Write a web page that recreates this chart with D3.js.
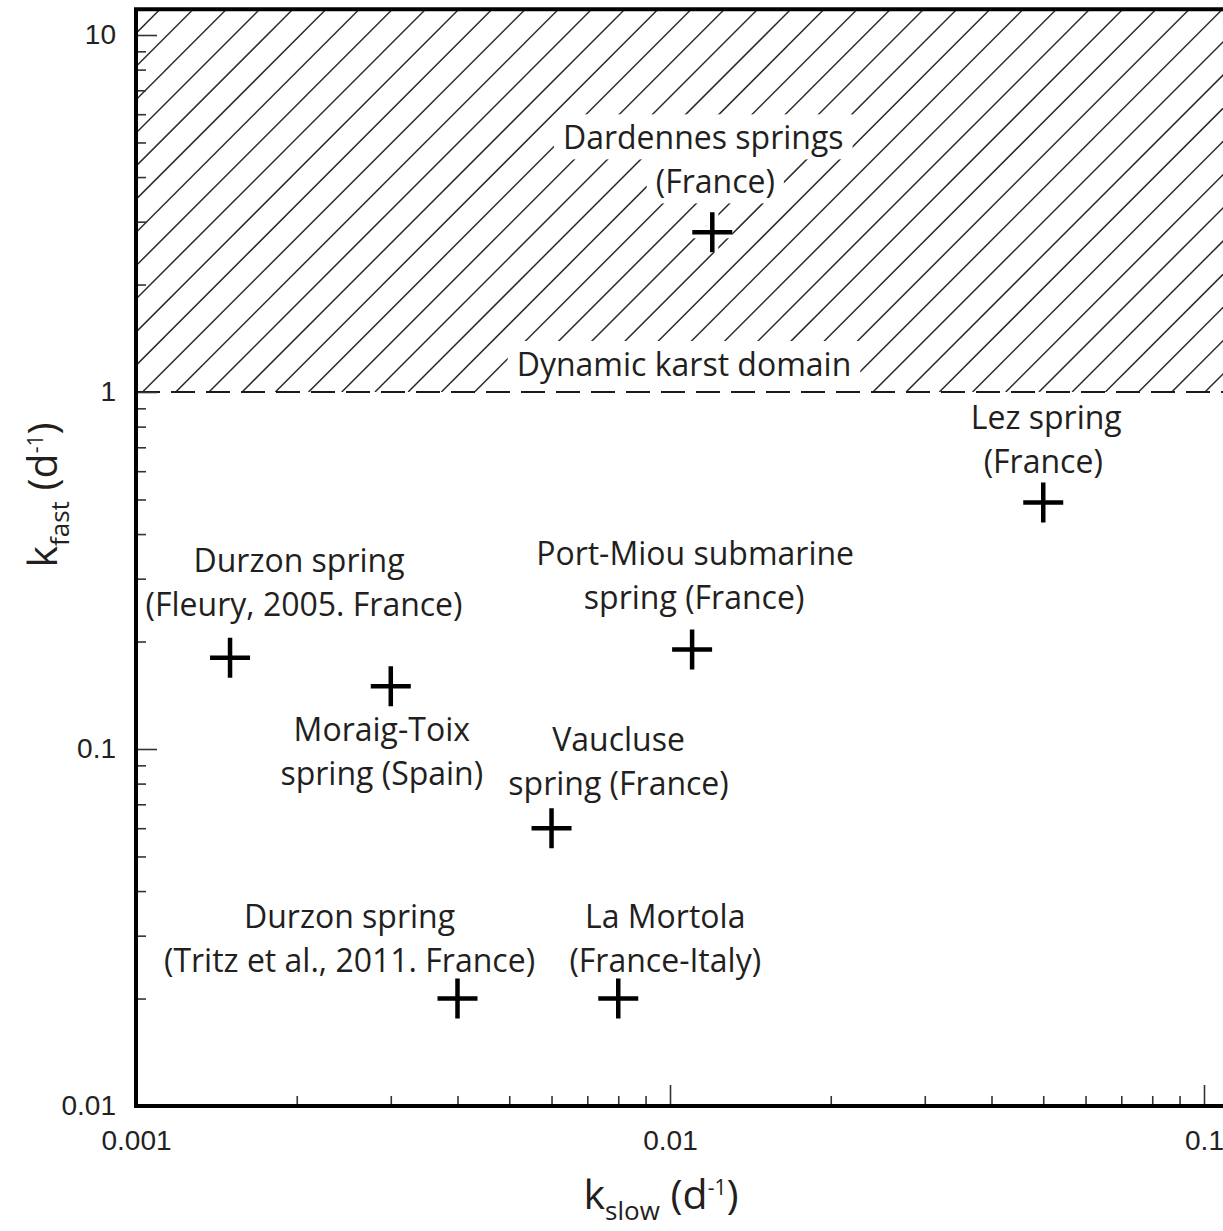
<!DOCTYPE html>
<html>
<head>
<meta charset="utf-8">
<script src="https://cdn.jsdelivr.net/npm/d3@7"></script>
<style>
  html, body { margin: 0; padding: 0; background: #fff; }
  svg { display: block; }
</style>
</head>
<body>
<svg id="chart" width="1223" height="1231"></svg>
<script>
// ---------------- data ----------------
const springLabels = [
  ["Dardennes springs", "(France)"],
  ["Lez spring", "(France)"],
  ["Durzon spring", "(Fleury, 2005. France)"],
  ["Port-Miou submarine", "spring (France)"],
  ["Moraig-Toix", "spring (Spain)"],
  ["Vaucluse", "spring (France)"],
  ["Durzon spring", "(Tritz et al., 2011. France)"],
  ["La Mortola", "(France-Italy)"]
];
const kSlow = [0.012, 0.05, 0.0015, 0.011, 0.003, 0.006, 0.004, 0.008];
const kFast = [2.8, 0.49, 0.18, 0.19, 0.15, 0.06, 0.02, 0.02];

const xTickValues = [0.001, 0.01, 0.1];
const xTickLabels = ["0.001", "0.01", "0.1"];
const yTickValues = [0.01, 0.1, 1, 10];
const yTickLabels = ["0.01", "0.1", "1", "10"];

const karstThreshold = 1;
const regionLabel = "Dynamic karst domain";
const xDomainMax = 0.13;
const yDomainMax = 11.8;

// ---------------- layout (pixels) ----------------
const labelLineDx = [[-9, 3], [3, 0], [69, 74], [3, 2], [-9, -9], [67, 67], [-108, -108], [47, 47]];
const labelDy = [-83, -74, -86, -84, 55, -77, -71, -71];
const lineHeight = 44;
const labelSize = 32;

// ---------------- chart ----------------
const svg = d3.select("#chart");
const left = 136, bottom = 1106;
const x = d3.scaleLog().domain([0.001, 0.1]).range([left, 1204]);
const y = d3.scaleLog().domain([0.01, 10]).range([bottom, 35]);
const xRight = x(xDomainMax);
const yTop = y(yDomainMax);

const labelFont = "'Open Sans', 'Noto Sans', sans-serif";
const tickFont = "'Liberation Sans', Arial, sans-serif";

// clip for hatched domain
const defs = svg.append("defs");
defs.append("clipPath").attr("id", "hatchClip")
  .append("rect")
  .attr("x", left).attr("y", yTop)
  .attr("width", xRight - left).attr("height", y(karstThreshold) - yTop);

// hatch lines (45 degrees)
const hatchH = y(karstThreshold) - yTop;
const spacing = 33.2;
const phase = 160;
const starts = d3.range(phase - Math.ceil((phase - left + hatchH + 40) / spacing) * spacing, xRight + hatchH + spacing, spacing);
svg.append("g").attr("clip-path", "url(#hatchClip)")
  .selectAll("line").data(starts).join("line")
  .attr("x1", d => d).attr("y1", yTop)
  .attr("x2", d => d - hatchH).attr("y2", yTop + hatchH)
  .attr("stroke", "#2a2a2a").attr("stroke-width", 1.5);

const bgLayer = svg.append("g");
const markLayer = svg.append("g");
const textLayer = svg.append("g");

// region label
const regionText = textLayer.append("text")
  .attr("x", 684).attr("y", y(karstThreshold) - 16)
  .attr("text-anchor", "middle")
  .attr("font-family", labelFont).attr("font-size", labelSize)
  .attr("fill", "#231f20")
  .text(regionLabel);

// threshold dashed line
const dashLine = svg.append("line")
  .attr("x1", left).attr("x2", xRight)
  .attr("y1", y(karstThreshold)).attr("y2", y(karstThreshold))
  .attr("stroke", "#1a1a1a").attr("stroke-width", 2)
  .attr("stroke-dasharray", "24,11");

// points
const pts = kSlow.map((v, i) => ({ xs: v, yf: kFast[i], lines: springLabels[i], dx: labelLineDx[i], dy: labelDy[i] }));

const cross = d => {
  const cx = x(d.xs), cy = y(d.yf), a = 20;
  return `M${cx - a},${cy}H${cx + a}M${cx},${cy - a}V${cy + a}`;
};
markLayer.selectAll("path.halo").data(pts).join("path")
  .attr("class", "halo").attr("d", cross)
  .attr("stroke", "#fff").attr("stroke-width", 12).attr("fill", "none");
markLayer.selectAll("path.mark").data(pts).join("path")
  .attr("class", "mark").attr("d", cross)
  .attr("stroke", "#000").attr("stroke-width", 4.5).attr("fill", "none");

pts.forEach(d => {
  d.lines.forEach((ln, j) => {
    textLayer.append("text")
      .attr("x", x(d.xs) + d.dx[j])
      .attr("y", y(d.yf) + d.dy + j * lineHeight)
      .attr("text-anchor", "middle")
      .attr("font-family", labelFont).attr("font-size", labelSize)
      .attr("fill", "#231f20")
      .text(ln);
  });
});

// white backgrounds behind texts lying within the hatched domain
textLayer.selectAll("text").each(function () {
  const b = this.getBBox();
  if (b.y < y(karstThreshold)) {
    const isRegion = this === regionText.node();
    bgLayer.append("rect")
      .attr("x", b.x - 9).attr("y", b.y - 1)
      .attr("width", b.width + 18)
      .attr("height", isRegion ? (y(karstThreshold) - 1 - (b.y - 1)) : b.height + 2)
      .attr("fill", "#fff");
  }
});
dashLine.raise();
markLayer.raise();
textLayer.raise();

// axes: minor ticks
const minorX = [];
[0.001, 0.01, 0.1].forEach(dec => d3.range(2, 10).forEach(m => { if (dec * m <= xDomainMax) minorX.push(dec * m); }));
const minorY = [];
[0.01, 0.1, 1, 10].forEach(dec => d3.range(2, 10).forEach(m => { if (dec * m <= yDomainMax) minorY.push(dec * m); }));

const styleAxis = g => {
  g.select(".domain").remove();
  g.selectAll(".tick line").attr("stroke", "#333").attr("stroke-width", 1.6);
};

svg.append("g").attr("transform", `translate(0,${bottom})`)
  .call(d3.axisBottom(x).tickValues(minorX).tickSize(-10).tickFormat(""))
  .call(styleAxis);
svg.append("g").attr("transform", `translate(0,${bottom})`)
  .call(d3.axisBottom(x).tickValues(xTickValues).tickSizeInner(-21).tickSizeOuter(0).tickPadding(24)
    .tickFormat((d, i) => xTickLabels[i]))
  .call(styleAxis)
  .call(g => g.selectAll("text").attr("font-family", tickFont).attr("font-size", 28).attr("fill", "#222"));

svg.append("g").attr("transform", `translate(${left},0)`)
  .call(d3.axisLeft(y).tickValues(minorY).tickSize(-10).tickFormat(""))
  .call(styleAxis);
svg.append("g").attr("transform", `translate(${left},0)`)
  .call(d3.axisLeft(y).tickValues(yTickValues).tickSizeInner(-21).tickSizeOuter(0).tickPadding(20)
    .tickFormat((d, i) => yTickLabels[i]))
  .call(styleAxis)
  .call(g => g.selectAll("text").attr("font-family", tickFont).attr("font-size", 28).attr("fill", "#222").attr("dy", "0.3em"));

// frame
svg.append("path")
  .attr("d", `M${xRight},${yTop}H${left}V${bottom}H${xRight}`)
  .attr("fill", "none").attr("stroke", "#000").attr("stroke-width", 4);

// axis titles
const xt = svg.append("text")
  .attr("x", 661).attr("y", 1209)
  .attr("text-anchor", "middle")
  .attr("font-family", labelFont).attr("font-size", 41).attr("fill", "#231f20");
xt.append("tspan").text("k");
xt.append("tspan").attr("font-size", 26).attr("dy", 11).text("slow");
xt.append("tspan").attr("dy", -11).text(" (d");
xt.append("tspan").attr("font-size", 21).attr("dy", -14).text("-1");
xt.append("tspan").attr("dy", 14).text(")");

const yt = svg.append("text")
  .attr("transform", "translate(57,495) rotate(-90)")
  .attr("text-anchor", "middle")
  .attr("font-family", labelFont).attr("font-size", 41).attr("fill", "#231f20");
yt.append("tspan").text("k");
yt.append("tspan").attr("font-size", 26).attr("dy", 12).text("fast");
yt.append("tspan").attr("dy", -12).text(" (d");
yt.append("tspan").attr("font-size", 21).attr("dy", -14).text("-1");
yt.append("tspan").attr("dy", 14).text(")");
</script>
</body>
</html>
